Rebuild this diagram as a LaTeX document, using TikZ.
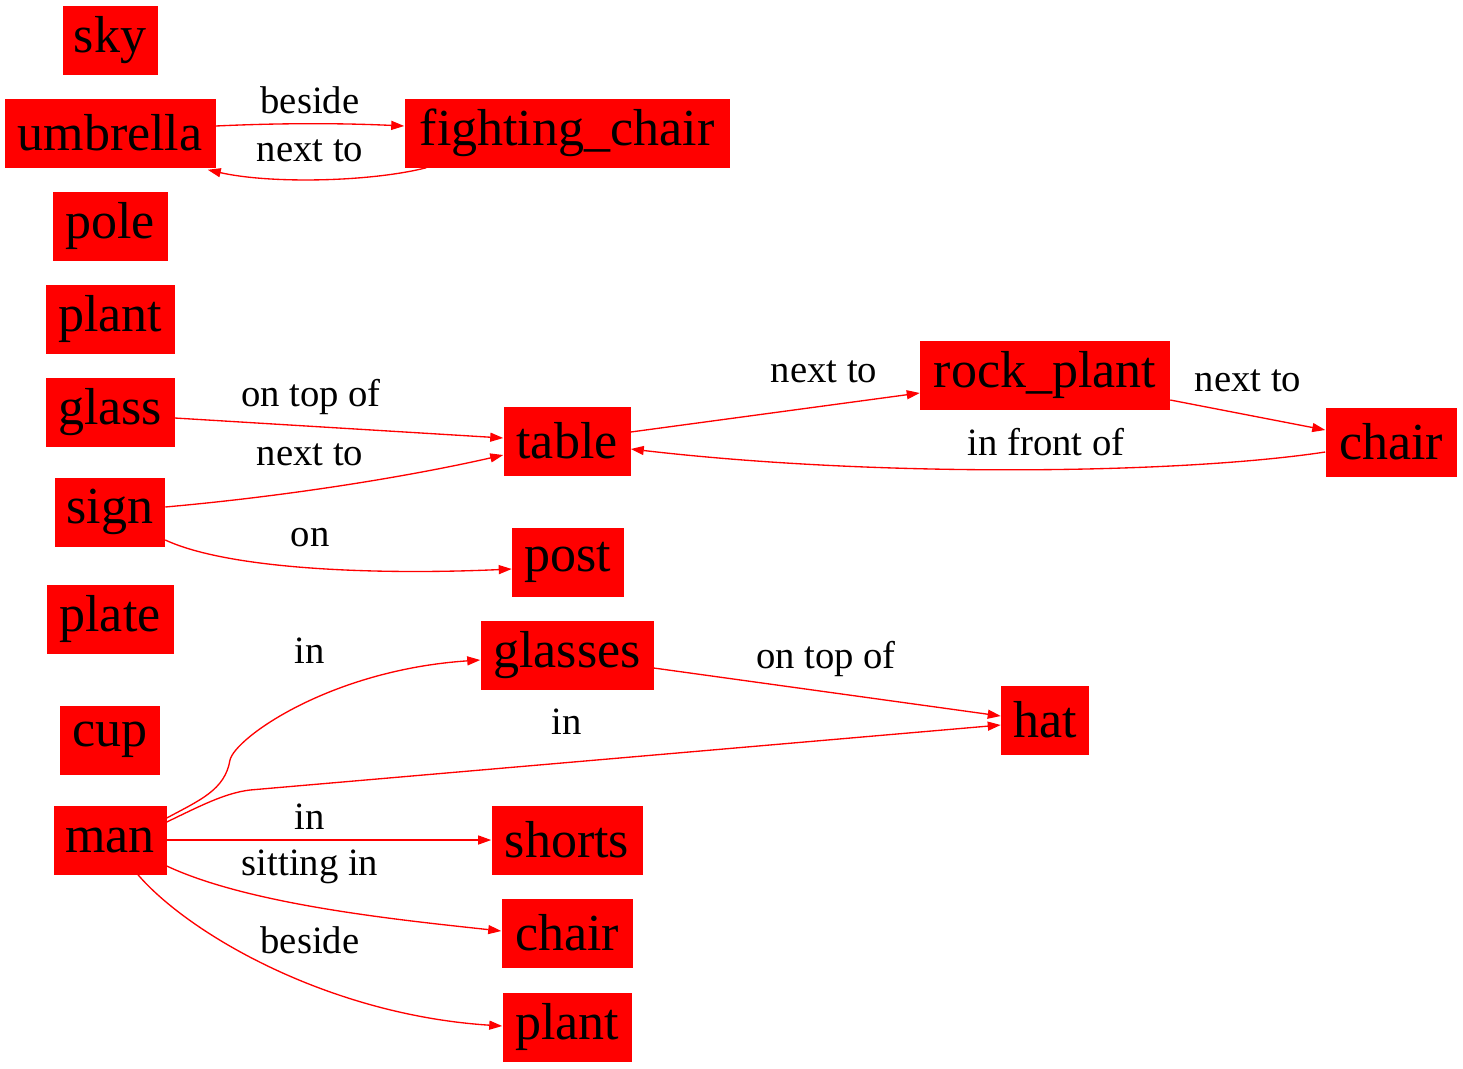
\documentclass[tikz,border=0pt]{standalone}
\usepackage{fontspec}
\setmainfont{Liberation Serif}
\usetikzlibrary{arrows.meta,calc}
\begin{document}
\begin{tikzpicture}[x=0.75pt,y=-0.75pt,
  obj/.style={fill=red,inner sep=0pt,minimum height=69*0.75pt,minimum width=#1*0.75pt,
    font=\fontsize{39}{40}\selectfont},
  lbl/.style={inner sep=0pt,font=\fontsize{29}{30}\selectfont},
  rel/.style={draw=red,line width=1pt,-{Triangle[length=9.75pt,width=6.75pt]}}]
\useasboundingbox (0,0) rectangle (1463,1068);
% objects
\node[obj=95]  (sky)      at (110,40)  {sky};
\node[obj=211] (umbrella) at (110,133) {umbrella};
\node[obj=325] (fchair)   at (567,133) {fighting\_chair};
\node[obj=115] (pole)     at (110,226) {pole};
\node[obj=129] (plantA)   at (110,319) {plant};
\node[obj=129] (glass)    at (110,412) {glass};
\node[obj=110] (sign)     at (110,512) {sign};
\node[obj=127] (plate)    at (110,619) {plate};
\node[obj=100] (cup)      at (110,740) {cup};
\node[obj=113] (man)      at (110,840) {man};
\node[obj=127] (table)    at (567,441) {table};
\node[obj=112] (post)     at (568,562) {post};
\node[obj=173] (glasses)  at (567,655) {glasses};
\node[obj=151] (shorts)   at (567,840) {shorts};
\node[obj=131] (chairB)   at (567,933) {chair};
\node[obj=129] (plantB)   at (567,1027) {plant};
\node[obj=250] (rock)     at (1045,375) {rock\_plant};
\node[obj=131] (chairR)   at (1391,442) {chair};
\node[obj=88]  (hat)      at (1045,720) {hat};
% relations
\draw[rel] ($(umbrella.east)+(0,-7)$) .. controls (280,123) and (340,123) .. ($(fchair.west)+(0,-7)$);
\node[lbl] (l1) at (310,100) {beside};
\draw[rel] ($(fchair.south west)+(22,0)$) .. controls (370,182) and (270,184) .. ($(umbrella.south east)+(-8,2)$);
\node[lbl] (l2) at (310,151) {next to};
\draw[rel] ($(glass.east)+(0,6)$) -- ($(table.west)+(0,-3)$);
\node[lbl] (l3) at (311,397) {on top of};
\draw[rel] ($(sign.east)+(0,-5)$) .. controls (300,495) and (420,474) .. ($(table.west)+(0,14)$);
\node[lbl] (l4) at (310,455) {next to};
\draw[rel] ($(sign.east)+(0,28)$) .. controls (230,570) and (380,575) .. ($(post.west)+(0,7)$);
\node[lbl] (l5) at (310,538) {on};
\draw[rel] ($(table.east)+(0,-9)$) -- ($(rock.west)+(0,18)$);
\node[lbl] (l6) at (824,372) {next to};
\draw[rel] ($(rock.east)+(0,25)$) -- ($(chairR.west)+(0,-12)$);
\node[lbl] (l7) at (1248,381) {next to};
\draw[rel] ($(chairR.west)+(0,10)$) .. controls (1180,474) and (880,478) .. ($(table.east)+(0,8)$);
\node[lbl] (l8) at (1046,442) {in front of};
\draw[rel] ($(man.east)+(0,-22)$) .. controls (200,800) and (225,790) .. (230,760)
  .. controls (235,738) and (330,670) .. ($(glasses.west)+(0,5)$);
\node[lbl] (l9) at (310,651) {in};
\draw[rel] ($(man.east)+(0,-18)$) .. controls (200,806) and (225,793) .. (250,790) -- ($(hat.west)+(0,5)$);
\node[lbl] (l10) at (567,722) {in};
\draw[rel] ($(glasses.east)+(0,13)$) -- ($(hat.west)+(0,-4)$);
\node[lbl] (l11) at (826,659) {on top of};
\draw[rel] (man.east) -- (shorts.west);
\node[lbl] (l12) at (310,817) {in};
\draw[rel] ($(man.east)+(0,26)$) .. controls (250,905) and (400,920) .. ($(chairB.west)+(0,-2)$);
\node[lbl] (l13) at (310,867) {sitting in};
\draw[rel] ($(man.south)+(28,0)$) .. controls (190,935) and (330,1015) .. ($(plantB.west)+(0,-1)$);
\node[lbl] (l14) at (310,940) {beside};
\end{tikzpicture}
\end{document}
